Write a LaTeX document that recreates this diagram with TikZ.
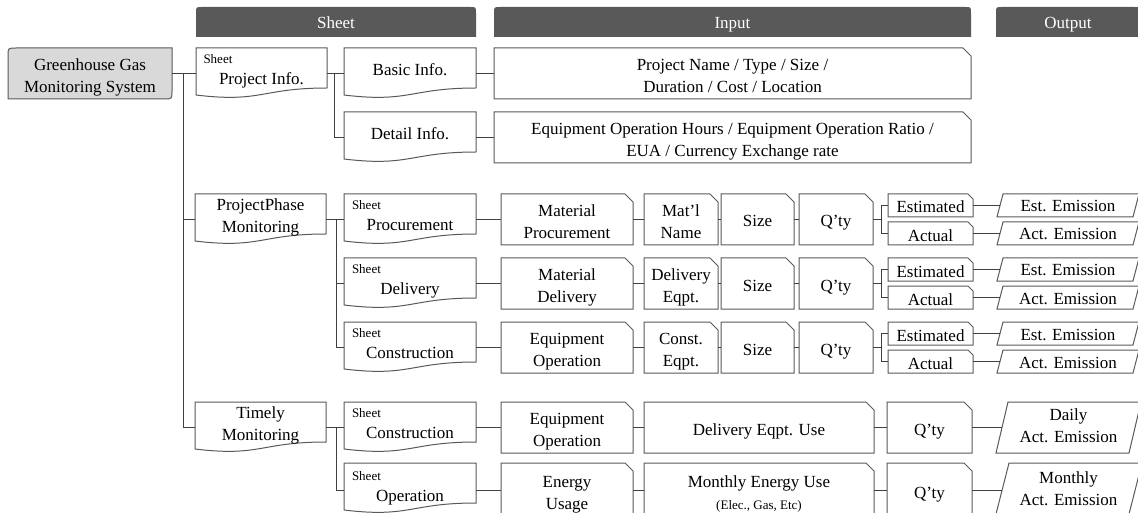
\documentclass[tikz,border=0pt]{standalone}
\usepackage{fontspec}
\setmainfont{Liberation Serif}
\usepackage{xcolor}
\usepackage{tikz}
\usetikzlibrary{calc}

\definecolor{linegray}{HTML}{595959}
\definecolor{conngray}{HTML}{404040}
\definecolor{hdrgray}{HTML}{595959}
\definecolor{rootfill}{HTML}{D9D9D9}

\newcommand{\mainsize}{\fontsize{17}{21.5}\selectfont}
\newcommand{\tagsize}{\fontsize{13}{15}\selectfont}
\newcommand{\shtxt}[1]{\makebox[116pt][l]{\tagsize Sheet}\\#1}
\newcommand{\up}{\rule{0pt}{20pt}}

\tikzset{
  boxline/.style={draw=linegray, line width=1pt},
  conn/.style={draw=conngray, line width=1.2pt},
  base/.style={anchor=north west, inner sep=0pt, outer sep=0pt, align=center, font=\mainsize},
  lowtext/.style={execute at begin node={\rule{0pt}{#1}}, execute at end node={\rule[-4pt]{0pt}{4pt}}},
  hdrbar/.style={base, lowtext=18pt, minimum width=#1, minimum height=30pt, text=white,
    append after command={\pgfextra{\fill[hdrgray] (\tikzlastnode.south west)
      -- ($(\tikzlastnode.north west)+(0,6)$) .. controls (\tikzlastnode.north west) .. ($(\tikzlastnode.north west)+(6,0)$)
      -- ($(\tikzlastnode.north east)+(-6,0)$) .. controls (\tikzlastnode.north east) .. ($(\tikzlastnode.north east)+(0,6)$)
      -- (\tikzlastnode.south east) -- cycle;}}},
  rootbox/.style={base, lowtext=19pt, minimum width=164pt, minimum height=51pt,
    append after command={\pgfextra{\filldraw[boxline, fill=rootfill]
      ($(\tikzlastnode.north west)+(0,8)$) .. controls (\tikzlastnode.north west) .. ($(\tikzlastnode.north west)+(8,0)$)
      -- (\tikzlastnode.north east)
      -- ($(\tikzlastnode.south east)+(0,-8)$) .. controls (\tikzlastnode.south east) .. ($(\tikzlastnode.south east)+(-8,0)$)
      -- (\tikzlastnode.south west) -- cycle;}}},
  docbox/.style={base, minimum width=#1, minimum height=51pt,
    execute at end node={\rule[-8pt]{0pt}{8pt}},
    append after command={\pgfextra{\draw[boxline] (\tikzlastnode.north west) -- (\tikzlastnode.north east)
      -- ($(\tikzlastnode.north east)+(0,40)$)
      .. controls ($(\tikzlastnode.north)+(0,40)$) and ($(\tikzlastnode.north)+(0,55)$) .. ($(\tikzlastnode.north west)+(0,47)$)
      -- cycle;}}},
  snipbox/.style n args={3}{base, lowtext=19pt, minimum width=#1, minimum height=#2,
    append after command={\pgfextra{\draw[boxline] (\tikzlastnode.north west)
      -- ($(\tikzlastnode.north east)+(-#3,0)$) -- ($(\tikzlastnode.north east)+(0,#3)$)
      -- (\tikzlastnode.south east) -- (\tikzlastnode.south west) -- cycle;}}},
  parabox/.style n args={3}{base, lowtext=17pt, minimum width=#1, minimum height=#2,
    append after command={\pgfextra{\draw[boxline] ($(\tikzlastnode.north west)+(#3,0)$)
      -- ($(\tikzlastnode.north east)+(#3,0)$) -- ($(\tikzlastnode.south east)+(-#3,0)$)
      -- ($(\tikzlastnode.south west)+(-#3,0)$) -- cycle;}}},
}

\begin{document}
\begin{tikzpicture}[x=1pt, y=-1pt]
    \useasboundingbox (0,0) rectangle (1138,513);
    \clip (0,0) rectangle (1138,513);

    % column headers
    \node[hdrbar=280pt] (hsheet) at (196,7) {Sheet};
    \node[hdrbar=477pt] (hinput) at (494,7) {Input};
    \node[hdrbar=144pt] (houtput) at (996,7) {Output};

    % root and first level
    \node[rootbox] (ghg) at (8,48) {\up Greenhouse Gas\\Monitoring System};
    \node[docbox=131pt] (pinfo) at (196,48) {\shtxt{Project Info.}};
    \node[docbox=131pt] (pphase) at (195,194) {ProjectPhase\\Monitoring};
    \node[docbox=131pt] (timely) at (195,402) {Timely\\Monitoring};
    \coordinate (trunk) at ($(ghg.east)+(11.5,0)$);
    \draw[conn] (ghg.east) -- (pinfo.west);
    \draw[conn] (trunk) |- (pphase.west);
    \draw[conn] (trunk) |- (timely.west);

    % project info
    \node[docbox=132pt] (basic) at (344,48) {Basic Info.};
    \node[docbox=132pt] (detail) at (344,112) {Detail Info.};
    \node[snipbox={477pt}{51pt}{8}] (basicin) at (494,48) {\up Project Name / Type / Size /\\Duration / Cost / Location};
    \node[snipbox={477pt}{51pt}{8}] (detailin) at (494,112) {\up Equipment Operation Hours / Equipment Operation Ratio /\\EUA / Currency Exchange rate};
    \draw[conn] (pinfo.east) -- (basic.west);
    \draw[conn] (pinfo.east) -- ++(7.5,0) |- (detail.west);
    \draw[conn] (basic.east) -- (basicin.west);
    \draw[conn] (detail.east) -- (detailin.west);

    % project phase monitoring
    \foreach \n/\y/\sh/\inp/\eq in {p/194/Procurement/{\up Material\\Procurement}/{\up Mat’l\\Name},
                                    d/258/Delivery/{\up Material\\Delivery}/{\up Delivery\\Eqpt.},
                                    c/322/Construction/{\up Equipment\\Operation}/{\up Const.\\Eqpt.}} {
        \node[docbox=132pt] (sh\n) at (344,\y) {\shtxt{\sh}};
        \node[snipbox={132pt}{51pt}{8}] (in\n) at (501,\y) {\inp};
        \node[snipbox={74pt}{51pt}{8}] (eq\n) at (644,\y) {\eq};
        \node[snipbox={73pt}{51pt}{8}] (sz\n) at (721,\y) {Size};
        \node[snipbox={74pt}{51pt}{8}] (qt\n) at (799,\y) {Q’ty};
        \node[snipbox={85pt}{23pt}{5}] (es\n) at (888,\y) {Estimated};
        \node[snipbox={85pt}{23pt}{5}] (ac\n) at (888,\y+28) {Actual};
        \node[parabox={136pt}{23pt}{3}] (ee\n) at (1000,\y) {Est. Emission};
        \node[parabox={136pt}{23pt}{3}] (ae\n) at (1000,\y+28) {Act. Emission};
        \draw[conn] (pphase.east) -- ++(10.5,0) |- (sh\n.west);
        \draw[conn] (sh\n.east) -- (in\n.west);
        \draw[conn] (in\n.east) -- (eq\n.west);
        \draw[conn] (eq\n.east) -- (sz\n.west);
        \draw[conn] (sz\n.east) -- (qt\n.west);
        \draw[conn] (qt\n.east) -- ++(8.5,0) |- (es\n.west);
        \draw[conn] (qt\n.east) -- ++(8.5,0) |- (ac\n.west);
        \draw[conn] (es\n.east) -- (ee\n.west);
        \draw[conn] (ac\n.east) -- (ae\n.west);
    }

    % timely monitoring
    \node[docbox=132pt] (shtc) at (344,402) {\shtxt{Construction}};
    \node[docbox=132pt, minimum height=55pt] (shto) at (344,463) {\shtxt{Operation}};
    \node[snipbox={132pt}{51pt}{8}] (eqop) at (501,402) {\up Equipment\\Operation};
    \node[snipbox={132pt}{55pt}{8}] (enus) at (501,463) {\up Energy\\Usage};
    \node[snipbox={230pt}{51pt}{8}] (deu) at (644,402) {Delivery Eqpt. Use};
    \node[snipbox={230pt}{55pt}{8}] (meu) at (644,463) {\up Monthly Energy Use\\{\tagsize (Elec., Gas, Etc)}};
    \node[snipbox={85pt}{51pt}{8}] (qtd) at (887,402) {Q’ty};
    \node[snipbox={85pt}{55pt}{8}] (qtm) at (887,463) {Q’ty};
    \node[parabox={133pt}{51pt}{6}] (daily) at (1002,402) {Daily\\Act. Emission};
    \node[parabox={133pt}{55pt}{7}] (monthly) at (1002,463) {Monthly\\Act. Emission};
    \draw[conn] (timely.east) -- (shtc.west);
    \draw[conn] (timely.east) -- ++(10.5,0) |- (shto.west);
    \draw[conn] (shtc.east) -- (eqop.west);
    \draw[conn] (shto.east) -- (enus.west);
    \draw[conn] (eqop.east) -- (deu.west);
    \draw[conn] (enus.east) -- (meu.west);
    \draw[conn] (deu.east) -- (qtd.west);
    \draw[conn] (meu.east) -- (qtm.west);
    \draw[conn] (qtd.east) -- (daily.west);
    \draw[conn] (qtm.east) -- (monthly.west);
\end{tikzpicture}
\end{document}
